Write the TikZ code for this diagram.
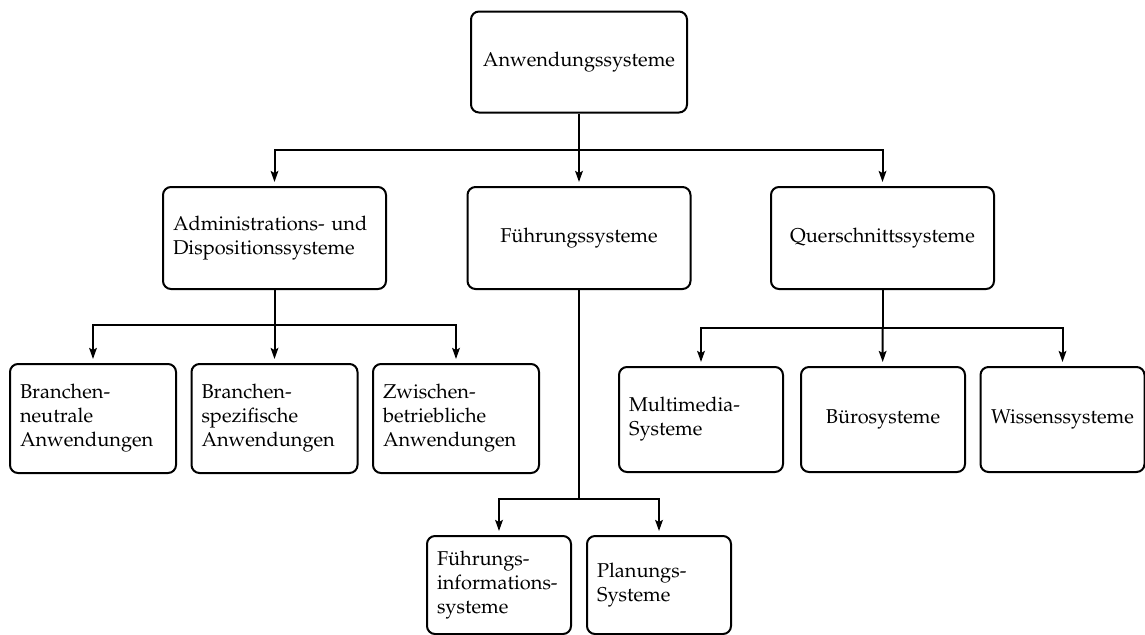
\documentclass[tikz,border=0pt]{standalone}
\usepackage[T1]{fontenc}
\usepackage{mathpazo}
\usetikzlibrary{arrows.meta}
\begin{document}
\begin{tikzpicture}[x=0.5pt,y=-0.5pt,
  box/.style={draw, line width=1pt, rounded corners=4pt, inner xsep=5pt, inner ysep=0pt,
    font=\fontsize{10}{12}\selectfont},
  topbox/.style={box, text width=98pt, minimum height=50.5pt, align=center},
  midbox/.style={box, text width=101.5pt, minimum height=51pt},
  brbox/.style={box, text width=73pt, minimum height=54.5pt, align=left},
  mmbox/.style={box, text width=72pt, minimum height=52.5pt},
  fbbox/.style={box, text width=62pt, minimum height=49pt, align=left},
  conn/.style={line width=1pt},
  arr/.style={line width=1pt, -{Stealth[length=5.5pt,width=3.8pt,inset=1pt]}, shorten >=2pt}
]
\useasboundingbox (0,0) rectangle (1145,634);

% nodes
\node[topbox] (top) at (579,62) {Anwendungssysteme};

\node[midbox, align=left]   (adm) at (274.5,238) {Administrations- und\\Dispositionssysteme};
\node[midbox, align=center] (fs)  at (579,238)   {F\"uhrungssysteme};
\node[midbox, align=center] (qs)  at (882.5,238) {Querschnittssysteme};

\node[brbox] (b1) at (93,418.5)  {Branchen-\\neutrale\\Anwendungen};
\node[brbox] (b2) at (274.5,418.5) {Branchen-\\spezifische\\Anwendungen};
\node[brbox] (b3) at (456,418.5) {Zwischen-\\betriebliche\\Anwendungen};

\node[mmbox, align=left]   (m1) at (701,419.5)    {Multimedia-\\Systeme};
\node[mmbox, align=center] (m2) at (883,419.5)    {B\"urosysteme};
\node[mmbox, align=center] (m3) at (1062.5,419.5) {Wissenssysteme};

\node[fbbox] (f1) at (499,585) {F\"uhrungs-\\informations-\\systeme};
\node[fbbox] (f2) at (659,585) {Planungs-\\Systeme};

% junctions
\coordinate (j1) at (579,150);
\coordinate (j2) at (274.5,325);
\coordinate (j3) at (882.5,328);
\coordinate (j4) at (579,499);

% connectors
\draw[conn] (top) -- (j1);
\draw[arr] (j1) -| (adm);
\draw[arr] (j1) -- (fs);
\draw[arr] (j1) -| (qs);

\draw[conn] (adm) -- (j2);
\draw[arr] (j2) -| (b1);
\draw[arr] (j2) -- (b2);
\draw[arr] (j2) -| (b3);

\draw[conn] (qs) -- (j3);
\draw[arr] (j3) -| (m1);
\draw[arr] (j3) -- (m2);
\draw[arr] (j3) -| (m3);

\draw[conn] (fs) -- (j4);
\draw[arr] (j4) -| (f1);
\draw[arr] (j4) -| (f2);
\end{tikzpicture}
\end{document}
